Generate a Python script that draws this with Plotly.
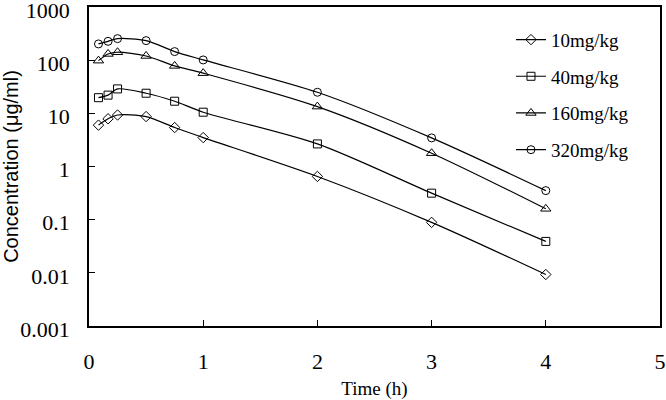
import plotly.graph_objects as go

time_h = [0.083, 0.167, 0.25, 0.5, 0.75, 1, 2, 3, 4]
dose_labels = ["10mg/kg", "40mg/kg", "160mg/kg", "320mg/kg"]
conc_10 = [6.0, 7.9, 9.3, 8.7, 5.4, 3.5, 0.65, 0.089, 0.0093]
conc_40 = [19.7, 22.0, 28.8, 23.9, 16.9, 10.5, 2.66, 0.315, 0.039]
conc_160 = [98, 131, 141, 120, 78, 57, 13.4, 1.78, 0.16]
conc_320 = [202, 226, 254, 233, 145, 101, 24.9, 3.45, 0.352]
series = [conc_10, conc_40, conc_160, conc_320]
symbols = ["diamond-open", "square-open", "triangle-up-open", "circle-open"]
sizes = [8, 8, 9, 8]

y_ticks = [0.001, 0.01, 0.1, 1, 10, 100, 1000]
y_tick_text = ["0.001", "0.01", "0.1", "1", "10", "100", "1000"]
x_ticks = [0, 1, 2, 3, 4, 5]

fig = go.Figure()
for name, vals, sym, sz in zip(dose_labels, series, symbols, sizes):
    fig.add_trace(go.Scatter(
        x=time_h, y=vals, name=name, mode="lines+markers",
        legendgroup=name,
        line=dict(color="black", width=1.2, shape="spline", smoothing=0.8),
        marker=dict(symbol=sym, size=sz, color="black",
                    line=dict(color="black", width=1)),
    ))

serif = "Liberation Serif, Times New Roman, serif"
fig.update_layout(
    width=666, height=400,
    margin=dict(l=89, r=6, t=7, b=74),
    paper_bgcolor="white", plot_bgcolor="white",
    font=dict(family=serif, color="black"),
    showlegend=True,
    legend=dict(x=0.739, y=0.957, xanchor="left", yanchor="top",
                font=dict(family=serif, size=19, color="black"),
                bgcolor="rgba(0,0,0,0)", tracegroupgap=9,
                itemwidth=30),
    xaxis=dict(range=[0, 5], tickvals=x_ticks, ticks="inside", ticklen=6,
               tickcolor="black", showline=True, linecolor="black",
               linewidth=1.5, mirror=True, showgrid=False, zeroline=False,
               automargin=False, ticklabeloverflow="allow",
               tickfont=dict(family=serif, size=22, color="black"),
               ticklabelstandoff=15,
               title=dict(text="Time (h)", standoff=10,
                          font=dict(family=serif, size=19, color="black"))),
    yaxis=dict(type="log", range=[-3, 3], tickvals=y_ticks,
               ticktext=y_tick_text, ticks="inside", ticklen=6,
               tickcolor="black", showline=True, linecolor="black",
               linewidth=1.5, mirror=True, showgrid=False, zeroline=False,
               automargin=False, ticklabeloverflow="allow",
               tickfont=dict(family=serif, size=22, color="black"),
               ticklabelstandoff=13, ticklabelshift=3,
               title=dict(text="Concentration (μg/ml)", standoff=4,
                          font=dict(family="Liberation Sans, Arial, sans-serif",
                                    size=20, color="black"))),
)

fig.write_html("out.html", config={"displayModeBar": False},
               post_script="document.body.style.margin='0';")
